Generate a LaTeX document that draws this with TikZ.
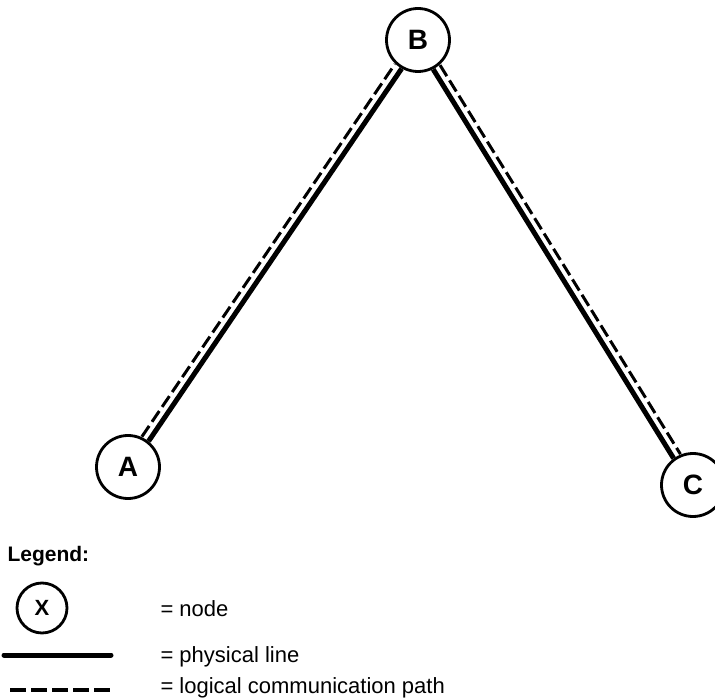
\documentclass[tikz,border=0pt]{standalone}
\usepackage{fontspec}
\setmainfont{Liberation Sans}
\usetikzlibrary{calc}

\begin{document}
\begin{tikzpicture}[x=1pt,y=-1pt,
    netnode/.style={circle, draw, line width=2.8pt, minimum size=63pt, inner sep=0pt,
        font=\fontsize{28}{28}\selectfont\bfseries},
    physline/.style={line width=5pt},
    logpath/.style={line width=3pt, dash pattern=on 13pt off 5pt},
    legendtext/.style={anchor=base west, font=\fontsize{22}{22}\selectfont}]
    \useasboundingbox (0,0) rectangle (715,700);

    % Nodes of the network
    \node[netnode] (A) at (128,467) {A};
    \node[netnode] (B) at (418,40) {B};
    \node[netnode] (C) at (693,485) {C};

    % Physical lines (inner side)
    \draw[physline, transform canvas={shift={(2.1,1.4)}}] (A) -- (B);
    \draw[physline, transform canvas={shift={(-2.1,1.3)}}] (B) -- (C);

    % Logical paths (outer side)
    \draw[logpath, transform canvas={shift={(-4.6,-3.1)}}] (A) -- (B);
    \draw[logpath, transform canvas={shift={(4.7,-2.9)}}] (B) -- (C);

    % Legend
    \node[anchor=base west, font=\fontsize{21}{21}\selectfont\bfseries] (legend) at (4,561) {Legend:};

    \node[netnode, minimum size=50pt, font=\fontsize{22}{22}\selectfont\bfseries] (X) at (42,608) {X};
    \node[legendtext] (nodeTxt) at (157,616) {= node};

    \coordinate (phys1) at (4,655);
    \coordinate (phys2) at (111,655);
    \draw[physline, line cap=round] (phys1) -- (phys2);
    \node[legendtext] (physTxt) at (157,662) {= physical line};

    \coordinate (log1) at (10,690);
    \coordinate (log2) at (110,690);
    \draw[line width=4pt, dash pattern=on 16pt off 5pt] (log1) -- (log2);
    \node[legendtext] (logTxt) at (157,693) {= logical communication path};

\end{tikzpicture}
\end{document}
